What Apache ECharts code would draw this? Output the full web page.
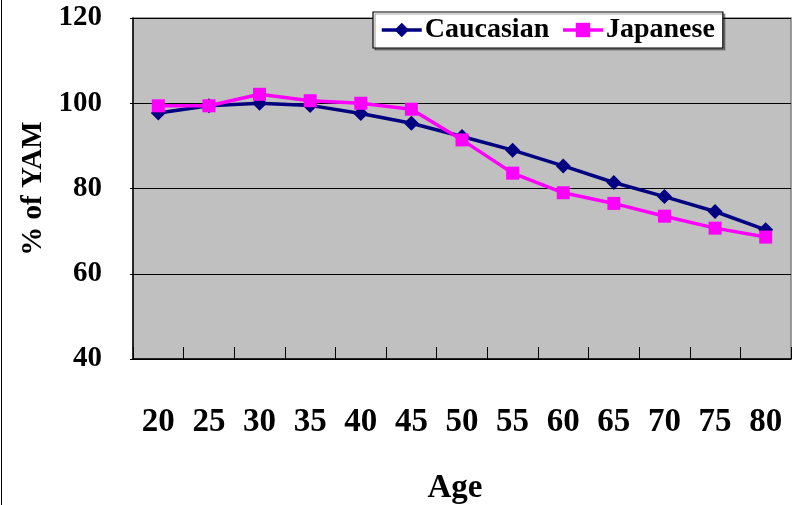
<!DOCTYPE html>
<html>
<head>
<meta charset="utf-8">
<script src="https://cdn.jsdelivr.net/npm/echarts@6/dist/echarts.min.js"></script>
<style>
html,body{margin:0;padding:0;background:#fff;}
#chart{width:794px;height:505px;}
</style>
</head>
<body>
<div id="chart"></div>
<script>
const ages = ['20','25','30','35','40','45','50','55','60','65','70','75','80'];
const caucasian = [97.7, 99.4, 100.0, 99.5, 97.6, 95.3, 92.2, 89.0, 85.3, 81.4, 78.1, 74.6, 70.3];
const japanese  = [99.4, 99.4, 102.1, 100.6, 100.0, 98.6, 91.4, 83.6, 79.0, 76.5, 73.5, 70.7, 68.6];
const yTicks = [40, 60, 80, 100, 120];

const FONT = '"Liberation Serif", "Times New Roman", serif';
const chart = echarts.init(document.getElementById('chart'), null, {renderer: 'canvas'});
chart.setOption({
  animation: false,
  backgroundColor: '#ffffff',
  graphic: [{
    type: 'line', shape: {x1: 1.5, y1: 0, x2: 1.5, y2: 505},
    style: {stroke: '#000', lineWidth: 1}
  }],
  grid: {
    left: 133, top: 18, right: 3, bottom: 146,
    containLabel: false,
    outerBoundsMode: 'none',
    show: true, backgroundColor: '#C0C0C0', borderColor: '#808080', borderWidth: 1.5
  },
  legend: {
    left: 373, top: 12,
    orient: 'horizontal',
    itemWidth: 40, itemHeight: 18, itemGap: 12,
    padding: [4, 8, 4, 7],
    backgroundColor: '#ffffff',
    borderColor: '#000', borderWidth: 1.2,
    shadowColor: 'rgba(0,0,0,0.35)', shadowOffsetX: 2, shadowOffsetY: 2, shadowBlur: 0,
    lineStyle: {width: 3.5},
    textStyle: {fontFamily: FONT, fontWeight: 'bold', fontSize: 28, color: '#000', padding: [2, 0, 0, -2]},
    data: ['Caucasian', 'Japanese']
  },
  xAxis: {
    type: 'category',
    data: ages,
    boundaryGap: true,
    name: 'Age',
    nameLocation: 'middle',
    nameGap: 113,
    nameTextStyle: {fontFamily: FONT, fontWeight: 'bold', fontSize: 33, color: '#000', padding: [0, 14, 0, 0]},
    axisLine: {show: true, lineStyle: {color: '#000', width: 1.5}},
    axisTick: {show: true, inside: true, length: 12, alignWithLabel: false, lineStyle: {color: '#000', width: 1}},
    axisLabel: {fontFamily: FONT, fontWeight: 'bold', fontSize: 33, color: '#000', margin: 47, interval: 0},
    splitLine: {show: false}
  },
  yAxis: {
    type: 'value',
    min: yTicks[0], max: yTicks[yTicks.length - 1], interval: 20,
    name: '% of YAM',
    nameLocation: 'middle',
    nameGap: 81,
    nameRotate: 90,
    nameTextStyle: {fontFamily: FONT, fontWeight: 'bold', fontSize: 29, color: '#000'},
    axisLine: {show: true, lineStyle: {color: '#000', width: 1.5}},
    axisTick: {show: true, inside: false, length: 3, lineStyle: {color: '#000'}},
    axisLabel: {fontFamily: FONT, fontWeight: 'bold', fontSize: 29, color: '#000', margin: 31},
    splitLine: {show: true, lineStyle: {color: '#000', width: 1}}
  },
  series: [
    {
      name: 'Caucasian', type: 'line', data: caucasian,
      symbol: 'diamond', symbolSize: 15,
      lineStyle: {color: '#000080', width: 3.5},
      itemStyle: {color: '#000080'},
      z: 2
    },
    {
      name: 'Japanese', type: 'line', data: japanese,
      symbol: 'rect', symbolSize: 13,
      lineStyle: {color: '#FF00FF', width: 3.5},
      itemStyle: {color: '#FF00FF'},
      z: 3
    }
  ]
});
</script>
</body>
</html>
